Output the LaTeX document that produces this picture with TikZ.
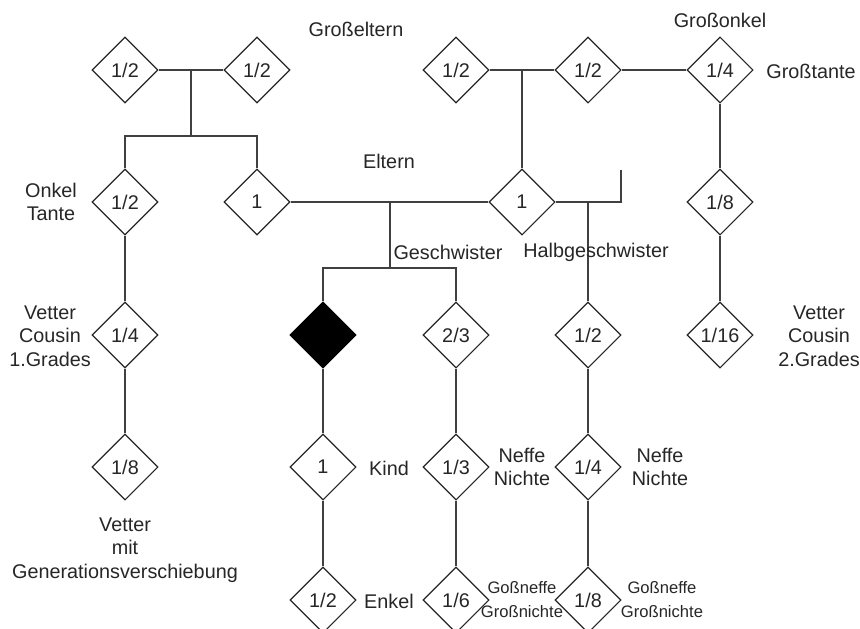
\documentclass[tikz,border=0pt]{standalone}
\usepackage{fontspec}
\setmainfont{Liberation Sans}
\usetikzlibrary{shapes.geometric}
\begin{document}
\begin{tikzpicture}[x=1pt,y=-1pt,
  kin/.style={diamond,draw=black!85,line width=1.1pt,minimum width=66pt,minimum height=66pt,
    inner sep=0pt,font=\fontsize{19.8}{23}\selectfont,text=black!85},
  ego/.style={kin,fill=black,draw=black},
  link/.style={draw=black!75,line width=1.1pt},
  lbl/.style={align=center,font=\fontsize{19.8}{23.5}\selectfont,text=black!85,inner sep=0pt},
  smalllbl/.style={align=center,font=\fontsize{16.6}{24}\selectfont,text=black!85,inner sep=0pt}]
\useasboundingbox (0,0) rectangle (860,629);

% generation of the grandparents and the great-uncle
\node[kin] (gpA) at (125,70) {1/2};
\node[kin] (gpB) at (257,70) {1/2};
\node[kin] (gpC) at (456,70) {1/2};
\node[kin] (gpD) at (588,70) {1/2};
\node[kin] (gu)  at (720,70) {1/4};
% parents, uncle/aunt
\node[kin] (uncle) at (125,202) {1/2};
\node[kin] (par)   at (257,202) {1};
\node[kin] (par2)  at (522,202) {1};
\node[kin] (gu2)   at (720,202) {1/8};
% own generation
\node[kin] (cous)  at (125,335) {1/4};
\node[ego] (self)  at (323,335) {};
\node[kin] (sib)   at (456,335) {2/3};
\node[kin] (hsib)  at (588,335) {1/2};
\node[kin] (cous2) at (720,335) {1/16};
% children
\node[kin] (cousg) at (125,467) {1/8};
\node[kin] (kid)   at (323,467) {1};
\node[kin] (nep)   at (456,467) {1/3};
\node[kin] (hnep)  at (588,467) {1/4};
% grandchildren
\node[kin] (gkid)  at (323,600) {1/2};
\node[kin] (gnep)  at (456,600) {1/6};
\node[kin] (hgnep) at (588,600) {1/8};

% junction points
\coordinate (jA)  at (191,70);
\coordinate (jAb) at (191,136);
\coordinate (jC)  at (522,70);
\coordinate (jE)  at (390,202);
\coordinate (jEb) at (390,268);
\coordinate (jH)  at (588,202);
\coordinate (hEnd) at (621,170);

% connectors
\draw[link] (gpA.east) -- (gpB.west);
\draw[link] (jA) -- (jAb);
\draw[link] (uncle.north) |- (jAb) -| (par.north);
\draw[link] (gpC.east) -- (gpD.west);
\draw[link] (jC) -- (par2.north);
\draw[link] (gpD.east) -- (gu.west);
\draw[link] (gu.south) -- (gu2.north);
\draw[link] (gu2.south) -- (cous2.north);
\draw[link] (par.east) -- (par2.west);
\draw[link] (jE) -- (jEb);
\draw[link] (self.north) |- (jEb) -| (sib.north);
\draw[link] (par2.east) -| (hEnd);
\draw[link] (jH) -- (hsib.north);
\draw[link] (uncle.south) -- (cous.north);
\draw[link] (cous.south) -- (cousg.north);
\draw[link] (self.south) -- (kid.north);
\draw[link] (kid.south) -- (gkid.north);
\draw[link] (sib.south) -- (nep.north);
\draw[link] (nep.south) -- (gnep.north);
\draw[link] (hsib.south) -- (hnep.north);
\draw[link] (hnep.south) -- (hgnep.north);

% labels
\node[lbl] (tGrossEltern) at (356,29) {Großeltern};
\node[lbl] (tGrossOnkel) at (720,20) {Großonkel};
\node[lbl] (tGrossTante) at (811,71) {Großtante};
\node[lbl] (tEltern) at (389,161) {Eltern};
\node[lbl] (tOnkel) at (51,202) {Onkel\\Tante};
\node[lbl] (tGeschw) at (448,252) {Geschwister};
\node[lbl] (tHalb) at (596,252) {Halbgeschwister};
\node[lbl] (tVetter1) at (50,336) {Vetter\\Cousin\\1.Grades};
\node[lbl] (tVetter2) at (819,336) {Vetter\\Cousin\\2.Grades};
\node[lbl] (tVetterG) at (125,550) {Vetter\\mit\\Generationsverschiebung};
\node[lbl] (tKind) at (389,468) {Kind};
\node[lbl] (tEnkel) at (389,601) {Enkel};
\node[lbl] (tNeffe1) at (522,467) {Neffe\\Nichte};
\node[lbl] (tNeffe2) at (660,467) {Neffe\\Nichte};
\node[smalllbl] (tGross1) at (522,600) {Goßneffe\\Großnichte};
\node[smalllbl] (tGross2) at (662,600) {Goßneffe\\Großnichte};
\end{tikzpicture}
\end{document}
